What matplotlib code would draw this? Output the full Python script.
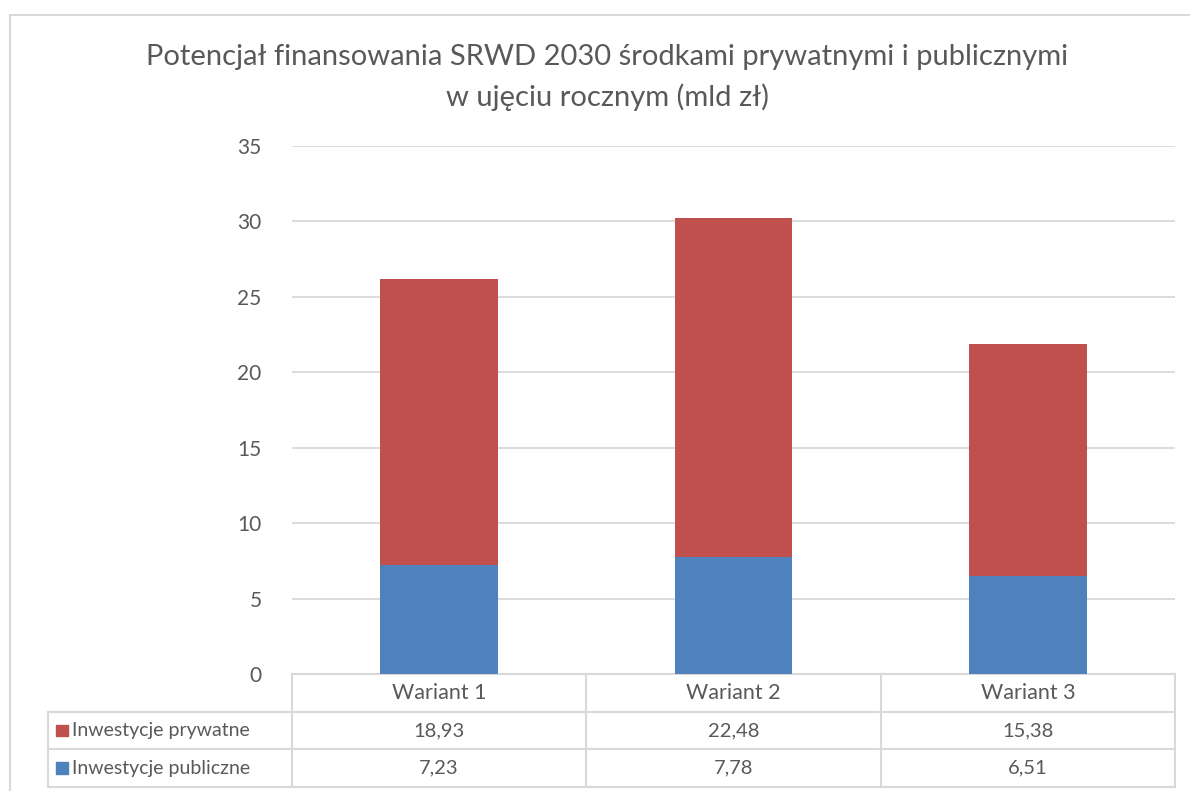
import matplotlib.pyplot as plt
from matplotlib.patches import Rectangle
from matplotlib.lines import Line2D

categories = ["Wariant 1", "Wariant 2", "Wariant 3"]
prywatne = [18.93, 22.48, 15.38]
publiczne = [7.23, 7.78, 6.51]
series_names = ["Inwestycje prywatne", "Inwestycje publiczne"]

RED = "#C0504D"
BLUE = "#4F81BD"
GRID = "#D9D9D9"
TXT = "#595959"

plt.rcParams["font.family"] = ["Lato", "DejaVu Sans"]

fig = plt.figure(figsize=(11.9, 7.91), dpi=100)
ax = fig.add_axes([292 / 1190, 1 - 674 / 791, 883 / 1190, 528 / 791])

x = [i + 0.5 for i in range(len(categories))]
ax.bar(x, publiczne, width=0.4, color=BLUE, zorder=3)
ax.bar(x, prywatne, width=0.4, bottom=publiczne, color=RED, zorder=3)

ax.set_xlim(0, 3)
ax.set_ylim(0, 35)
ax.set_yticks(range(0, 36, 5))
ax.set_xticks([])
ax.yaxis.grid(True, color=GRID, lw=1.3, zorder=0)
for s in ax.spines.values():
    s.set_visible(False)
ax.tick_params(axis="y", length=0, pad=22, labelsize=15, labelcolor=TXT)

# data table under the plot (x in data units, y in axes fraction)
tr = ax.get_xaxis_transform()
row_h = 37.7 / 528
left = -244 / (883 / 3)
kw = dict(color=GRID, lw=1.5, transform=tr, clip_on=False)
# horizontal lines
ax.add_line(Line2D([0, 3], [0, 0], **kw))
for r in range(1, 4):
    ax.add_line(Line2D([left, 3], [-r * row_h] * 2, **kw))
# vertical lines
ax.add_line(Line2D([left, left], [-row_h, -3 * row_h], **kw))
for c in range(4):
    ax.add_line(Line2D([c, c], [0, -3 * row_h], **kw))

tkw = dict(transform=tr, ha="center", va="center", fontsize=14.5, color=TXT)
for i, name in enumerate(categories):
    ax.text(x[i], -0.5 * row_h, name, fontsize=15.5,
            **{k: v for k, v in tkw.items() if k != "fontsize"})
    ax.text(x[i], -1.5 * row_h, f"{prywatne[i]:.2f}".replace(".", ","), **tkw)
    ax.text(x[i], -2.5 * row_h, f"{publiczne[i]:.2f}".replace(".", ","), **tkw)

for r, (name, col) in enumerate(zip(series_names, [RED, BLUE])):
    yc = -(r + 1.5) * row_h
    ax.add_patch(Rectangle((left + 0.027, yc - 0.011), 0.041, 0.022,
                           color=col, transform=tr, clip_on=False))
    ax.text(left + 0.083, yc, name, transform=tr, ha="left", va="center",
            fontsize=14, color=TXT)

# title
fig.text(607 / 1190, 1 - 57 / 791, "Potencjał finansowania SRWD 2030 środkami prywatnymi i publicznymi",
         ha="center", va="center", fontsize=21, color=TXT)
fig.text(607 / 1190, 1 - 97 / 791, "w ujęciu rocznym (mld zł)",
         ha="center", va="center", fontsize=21, color=TXT)

# chart border
fig.patches.append(Rectangle((10 / 1190, -0.1), 1.2, 1 - 15 / 791 + 0.1,
                             transform=fig.transFigure, fill=False,
                             edgecolor=GRID, lw=1.5))

fig.savefig("out.png", dpi=100)
